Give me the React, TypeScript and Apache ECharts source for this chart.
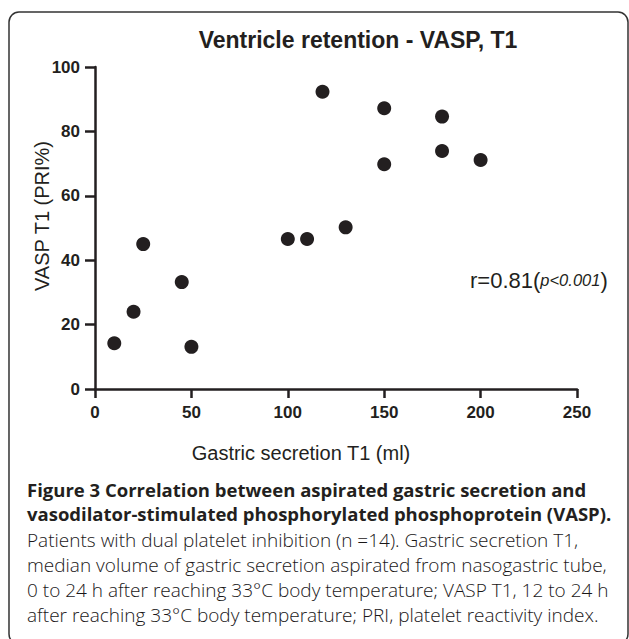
import React, { useEffect, useRef } from "react";
import * as echarts from "echarts";

const xValues = [10, 20, 25, 45, 50, 100, 110, 118, 130, 150, 150, 180, 180, 200];
const yValues = [14.2, 24, 45, 33.2, 13.1, 46.6, 46.6, 92.3, 50.2, 87.2, 69.8, 84.6, 73.9, 71.1];
const xTicks = [0, 50, 100, 150, 200, 250];
const yTicks = [0, 20, 40, 60, 80, 100];

const chartTitle = "Ventricle retention - VASP, T1";
const xName = "Gastric secretion T1 (ml)";
const yName = "VASP T1 (PRI%)";
const captionBold = [
  "Figure 3 Correlation between aspirated gastric secretion and",
  "vasodilator-stimulated phosphorylated phosphoprotein (VASP).",
];
const captionRegular = [
  "Patients with dual platelet inhibition (n =14). Gastric secretion T1,",
  "median volume of gastric secretion aspirated from nasogastric tube,",
  "0 to 24 h after reaching 33\u00b0C body temperature; VASP T1, 12 to 24 h",
  "after reaching 33\u00b0C body temperature; PRI, platelet reactivity index.",
];

const INK = "#231f20";
const SANS = "'Liberation Sans', Arial, Helvetica, sans-serif";
const CAP = "'Open Sans', 'Noto Sans', sans-serif";

export default function App() {
  const ref = useRef<HTMLDivElement>(null);
  useEffect(() => {
    if (!ref.current) return;
    const chart = echarts.init(ref.current, null, { renderer: "svg" });
    const points = xValues.map((x, i) => [x, yValues[i]]);
    const capLines: any[] = [];
    const capY = [489, 513, 540, 565, 590, 615];
    captionBold.forEach((t, i) =>
      capLines.push({
        type: "text",
        x: 27,
        y: capY[i],
        style: {
          text: t,
          font: `bold 18.5px ${CAP}`,
          fill: INK,
          textAlign: "left",
          textVerticalAlign: "middle",
        },
      })
    );
    captionRegular.forEach((t, i) =>
      capLines.push({
        type: "text",
        x: 27,
        y: capY[i + 2],
        style: {
          text: t,
          font: `300 19px ${CAP}`,
          fill: "#1a1718",
          textAlign: "left",
          textVerticalAlign: "middle",
        },
      })
    );
    chart.setOption({
      animation: false,
      grid: { left: 95, top: 67, right: 52, bottom: 250, containLabel: false },
      xAxis: {
        type: "value",
        min: xTicks[0],
        max: xTicks[xTicks.length - 1],
        interval: 50,
        splitLine: { show: false },
        axisLine: { show: true, lineStyle: { color: INK, width: 2.5 } },
        axisTick: { show: true, length: 9, lineStyle: { color: INK, width: 2.5 } },
        axisLabel: {
          margin: 15,
          color: INK,
          fontFamily: SANS,
          fontWeight: "bold",
          fontSize: 17,
        },
      },
      yAxis: {
        type: "value",
        min: yTicks[0],
        max: yTicks[yTicks.length - 1],
        interval: 20,
        splitLine: { show: false },
        axisLine: { show: true, lineStyle: { color: INK, width: 2.5 } },
        axisTick: { show: true, length: 10, lineStyle: { color: INK, width: 2.5 } },
        axisLabel: {
          margin: 15,
          color: INK,
          fontFamily: SANS,
          fontWeight: "bold",
          fontSize: 17,
        },
      },
      series: [
        {
          type: "scatter",
          data: points,
          symbol: "circle",
          symbolSize: 14,
          itemStyle: { color: INK, opacity: 1 },
        },
      ],
      graphic: [
        {
          type: "rect",
          shape: { x: 9, y: 12, width: 619, height: 632, r: 10 },
          style: { fill: "none", stroke: "#333", lineWidth: 1.5 },
          silent: true,
        },
        {
          type: "text",
          x: 358,
          y: 40,
          style: {
            text: chartTitle,
            font: `bold 23px ${SANS}`,
            fill: INK,
            textAlign: "center",
            textVerticalAlign: "middle",
          },
        },
        {
          type: "text",
          x: 301,
          y: 453,
          style: {
            text: xName,
            font: `20px ${SANS}`,
            fill: INK,
            textAlign: "center",
            textVerticalAlign: "middle",
          },
        },
        {
          type: "text",
          x: 42,
          y: 216,
          rotation: Math.PI / 2,
          style: {
            text: yName,
            font: `20px ${SANS}`,
            fill: INK,
            textAlign: "center",
            textVerticalAlign: "middle",
          },
        },
        {
          type: "text",
          x: 470,
          y: 280,
          style: {
            text: "{a|r=0.81(}{b|p<0.001}{a|)}",
            textAlign: "left",
            textVerticalAlign: "middle",
            rich: {
              a: { fontFamily: SANS, fontSize: 22, fill: INK, color: INK },
              b: { fontFamily: SANS, fontSize: 16.5, fontStyle: "italic", fill: INK, color: INK },
            },
          },
        },
        ...capLines,
      ],
    });
    return () => chart.dispose();
  }, []);
  return (
    <div
      ref={ref}
      style={{ position: "absolute", left: 0, top: 0, width: 629, height: 639, background: "#fff" }}
    />
  );
}
